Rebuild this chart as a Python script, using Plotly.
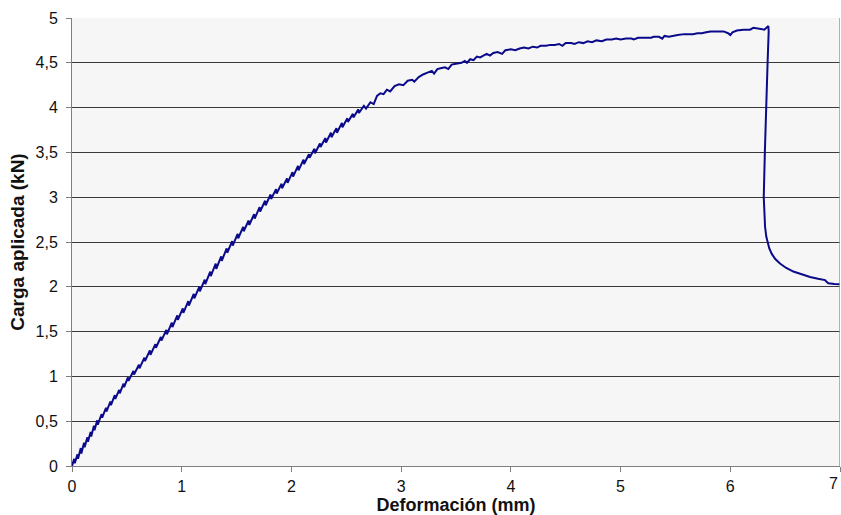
import plotly.graph_objects as go

# Deformation (mm) and applied load (kN)
deformacion = [
    0.00, 0.02, 0.025, 0.05, 0.055, 0.08, 0.085, 0.11, 0.115, 0.14, 0.145, 0.17, 0.175,
    0.20, 0.205, 0.23, 0.235, 0.27, 0.275, 0.31, 0.315, 0.35, 0.355, 0.39, 0.395,
    0.43, 0.435, 0.47, 0.475, 0.51, 0.515, 0.56, 0.565, 0.61, 0.615, 0.66, 0.665,
    0.71, 0.715, 0.76, 0.765, 0.81, 0.815, 0.86, 0.865, 0.91, 0.915, 0.96, 0.965,
    1.01, 1.015, 1.06, 1.065, 1.11, 1.115, 1.16, 1.165, 1.21, 1.215, 1.26, 1.265,
    1.31, 1.315, 1.36, 1.365, 1.41, 1.415, 1.46, 1.465, 1.51, 1.515, 1.56, 1.565,
    1.61, 1.615, 1.66, 1.665, 1.71, 1.715, 1.76, 1.765, 1.81, 1.815, 1.86, 1.865,
    1.91, 1.915, 1.96, 1.965, 2.01, 2.015, 2.06, 2.065, 2.11, 2.115, 2.16, 2.165,
    2.21, 2.215, 2.26, 2.265, 2.31, 2.315, 2.36, 2.365, 2.41, 2.415, 2.46, 2.465,
    2.51, 2.515, 2.56, 2.565, 2.61, 2.615, 2.66, 2.68, 2.72, 2.75, 2.78, 2.81,
    2.84, 2.87, 2.90, 2.94, 2.98, 3.02, 3.06, 3.10, 3.12, 3.16, 3.20, 3.24,
    3.28, 3.30, 3.33, 3.36, 3.40, 3.43, 3.46, 3.50, 3.55, 3.58, 3.60, 3.63,
    3.66, 3.69, 3.72, 3.75, 3.78, 3.81, 3.84, 3.88, 3.92, 3.95, 4.00, 4.04,
    4.08, 4.12, 4.16, 4.20, 4.24, 4.27, 4.32, 4.36, 4.40, 4.44, 4.47, 4.50,
    4.55, 4.58, 4.62, 4.66, 4.70, 4.74, 4.78, 4.83, 4.87, 4.92, 4.96, 5.00,
    5.05, 5.10, 5.12, 5.16, 5.22, 5.28, 5.30, 5.35, 5.38, 5.40, 5.44, 5.47,
    5.52, 5.58, 5.66, 5.70, 5.74, 5.78, 5.82, 5.88, 5.94, 5.98, 6.00, 6.02,
    6.06, 6.12, 6.18, 6.21, 6.26, 6.31, 6.347, 6.35, 6.34, 6.325, 6.315, 6.305,
    6.31, 6.317, 6.328, 6.338, 6.355, 6.377, 6.41, 6.453, 6.51, 6.575, 6.65, 6.727,
    6.80, 6.864, 6.875, 6.894, 6.95, 7.00,
]
carga = [
    0.00, 0.08, 0.03, 0.13, 0.08, 0.20, 0.14, 0.26, 0.21, 0.32, 0.27, 0.38, 0.33,
    0.45, 0.40, 0.51, 0.46, 0.58, 0.54, 0.65, 0.61, 0.72, 0.68, 0.79, 0.75,
    0.85, 0.81, 0.92, 0.88, 0.99, 0.95, 1.06, 1.02, 1.13, 1.09, 1.21, 1.17,
    1.29, 1.24, 1.36, 1.32, 1.44, 1.40, 1.52, 1.47, 1.60, 1.55, 1.68, 1.63,
    1.76, 1.71, 1.84, 1.79, 1.92, 1.87, 2.00, 1.95, 2.08, 2.03, 2.17, 2.12,
    2.26, 2.20, 2.34, 2.29, 2.43, 2.38, 2.51, 2.46, 2.59, 2.54, 2.67, 2.62,
    2.74, 2.69, 2.81, 2.76, 2.89, 2.84, 2.96, 2.91, 3.03, 2.98, 3.09, 3.04,
    3.15, 3.10, 3.21, 3.16, 3.28, 3.23, 3.35, 3.30, 3.42, 3.37, 3.48, 3.44,
    3.54, 3.49, 3.60, 3.56, 3.66, 3.61, 3.72, 3.67, 3.77, 3.72, 3.83, 3.78,
    3.88, 3.84, 3.93, 3.89, 3.98, 3.94, 4.02, 3.99, 4.06, 4.04, 4.13, 4.16,
    4.15, 4.20, 4.18, 4.24, 4.26, 4.25, 4.30, 4.31, 4.29, 4.34, 4.37, 4.39,
    4.41, 4.38, 4.43, 4.44, 4.45, 4.43, 4.48, 4.49, 4.50, 4.52, 4.50, 4.54,
    4.53, 4.57, 4.56, 4.58, 4.60, 4.58, 4.61, 4.62, 4.60, 4.64, 4.65, 4.64,
    4.66, 4.67, 4.66, 4.68, 4.67, 4.69, 4.69, 4.70, 4.70, 4.71, 4.69, 4.72,
    4.72, 4.71, 4.73, 4.72, 4.74, 4.73, 4.75, 4.74, 4.76, 4.76, 4.77, 4.76,
    4.77, 4.77, 4.76, 4.78, 4.78, 4.78, 4.79, 4.79, 4.77, 4.80, 4.79, 4.80,
    4.81, 4.82, 4.82, 4.83, 4.83, 4.84, 4.85, 4.85, 4.85, 4.83, 4.81, 4.84,
    4.86, 4.87, 4.87, 4.89, 4.88, 4.87, 4.91, 4.85, 4.50, 4.00, 3.50, 3.00,
    2.80, 2.67, 2.56, 2.50, 2.43, 2.37, 2.31, 2.26, 2.21, 2.17, 2.14, 2.11,
    2.09, 2.075, 2.06, 2.04, 2.032, 2.028,
]

x_ticks = [0, 1, 2, 3, 4, 5, 6]
x_edge_tick = 7
y_ticks = [0, 0.5, 1, 1.5, 2, 2.5, 3, 3.5, 4, 4.5, 5]

fig = go.Figure()
fig.add_trace(go.Scatter(
    x=deformacion, y=carga, mode="lines",
    line=dict(color="#0a0a8a", width=2),
    showlegend=False, hoverinfo="skip", cliponaxis=True,
))

font_family = "Liberation Sans, Arial, sans-serif"
fig.update_layout(
    width=841, height=515,
    margin=dict(l=72, r=1, t=18, b=49, autoexpand=False),
    paper_bgcolor="white",
    plot_bgcolor="#F6F6F6",
    separators=",.",
    font=dict(family=font_family, size=16, color="#111111"),
    xaxis=dict(
        range=[0, 7], tickvals=x_ticks + [x_edge_tick],
        ticktext=[str(v) for v in x_ticks] + [""],
        showgrid=False, zeroline=False,
        showline=True, linecolor="#7f7f7f", linewidth=1, mirror=False,
        ticks="outside", ticklen=5, tickcolor="#7f7f7f", automargin=False,
        ticklabelstandoff=1,
        tickfont=dict(size=16, family=font_family, color="#111111"),
        title=dict(text="<b>Deformación (mm)</b>", standoff=4,
                   font=dict(size=18, family=font_family, color="#111111")),
    ),
    yaxis=dict(
        range=[0, 5], tickvals=y_ticks, showgrid=True, gridcolor="#3a3a3a",
        gridwidth=1, zeroline=False, automargin=False,
        showline=True, linecolor="#7f7f7f", linewidth=1,
        ticks="outside", ticklen=5, tickcolor="#7f7f7f",
        ticklabelstandoff=5,
        tickfont=dict(size=16, family=font_family, color="#111111"),
        title=dict(text="<b>Carga aplicada (kN)</b>", standoff=5,
                   font=dict(size=19, family=font_family, color="#111111")),
    ),
    shapes=[
        dict(type="line", xref="x", yref="paper", x0=7, x1=7, y0=0, y1=1,
             line=dict(color="#9a9a9a", width=1.5)),
    ],
    annotations=[
        dict(x=x_edge_tick, xref="x", y=0, yref="paper", yshift=-7,
             text=str(x_edge_tick), showarrow=False, xanchor="right", yanchor="top",
             font=dict(size=16, family=font_family, color="#111111")),
    ],
)

# Remove the default page margin / scrollbars so the 841x515 figure fills the window
page_fix = (
    "document.body.style.margin='0';"
    "document.body.style.overflow='hidden';"
    "document.documentElement.style.overflow='hidden';"
)
fig.write_html("out.html", config={"responsive": False, "displayModeBar": False},
               post_script=page_fix)
